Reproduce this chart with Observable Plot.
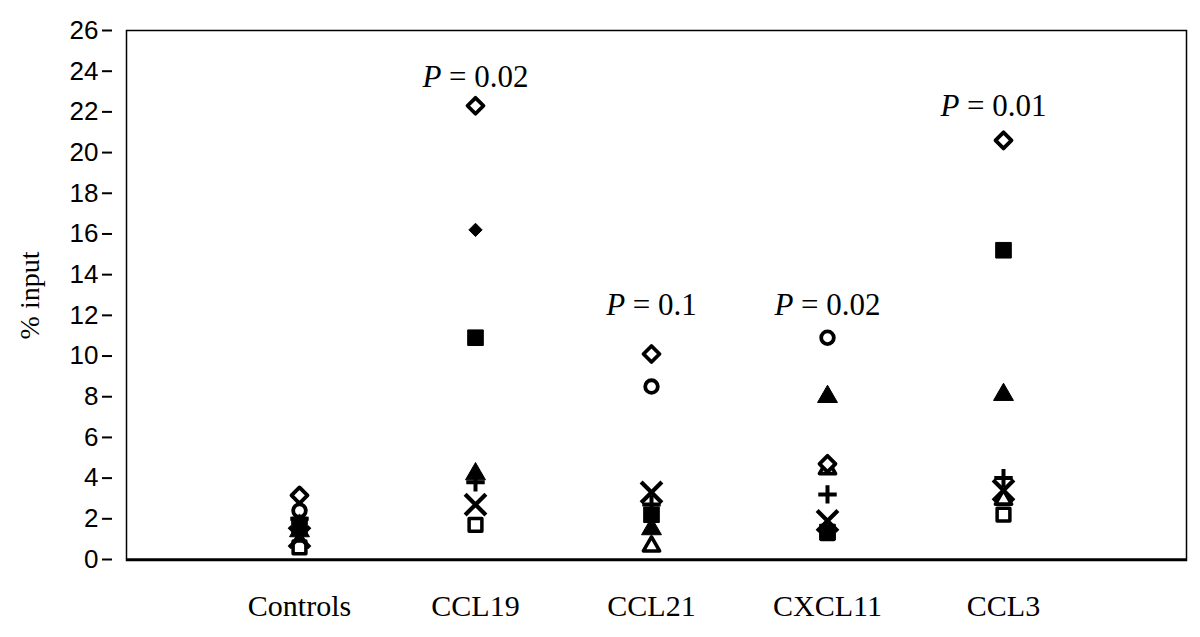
<!DOCTYPE html>
<html><head><meta charset="utf-8">
<script src="https://cdn.jsdelivr.net/npm/d3@7"></script>
<script src="https://cdn.jsdelivr.net/npm/@observablehq/plot@0.6"></script>
<style>body{margin:0;background:#fff}</style>
</head><body><div id="chart"></div>
<script>
const categories = ["Controls", "CCL19", "CCL21", "CXCL11", "CCL3"];
const yTicks = [0,2,4,6,8,10,12,14,16,18,20,22,24,26];

// values per category (Controls, CCL19, CCL21, CXCL11, CCL3); null = not visible
const openDiamond    = [3.15, 22.3, 10.1, 4.7, 20.6];
const filledDiamond  = [1.9, 16.2, null, null, null];
const filledSquare   = [1.7, 10.9, 2.2, 1.35, 15.2];
const openSquare     = [0.6, 1.7, null, 1.3, 2.2];
const filledTriangle = [1.4, 4.2, 1.5, 8.0, 8.1];
const openTriangle   = [0.85, null, 0.65, 4.45, 2.95];
const timesMark      = [1.1, 2.7, 3.3, 1.9, 3.4];
const plusMark       = [2.0, 3.8, 2.7, 3.2, 4.0];
const openCircle     = [2.4, null, 8.5, 10.9, null];

const pCategories = ["CCL19", "CCL21", "CXCL11", "CCL3"];
const pValues = ["0.02", "0.1", "0.02", "0.01"];
const pLabelY = [23.7, 12.5, 12.5, 22.3];

const seriesList = [
  {values: openTriangle,   symbol: "triangle", fill: "white", stroke: "black", r: 6,   sw: 3.6},
  {values: openSquare,     symbol: "square",   fill: "white", stroke: "black", r: 7.2, sw: 3.5},
  {values: filledSquare,   symbol: "square",   fill: "black", stroke: "black", r: 8.8, sw: 1},
  {values: filledTriangle, symbol: "triangle", fill: "black", stroke: "black", r: 7.4, sw: 1},
  {values: timesMark,      symbol: "times",    fill: "none",  stroke: "black", r: 9.5, sw: 4.2},
  {values: plusMark,       symbol: "plus",     fill: "none",  stroke: "black", r: 6,   sw: 4},
  {values: openCircle,     symbol: "circle",   fill: "white", stroke: "black", r: 6.3, sw: 3.8},
  {values: filledDiamond,  symbol: "diamond2", fill: "black", stroke: "black", r: 6,   sw: 1},
  {values: openDiamond,    symbol: "diamond2", fill: "white", stroke: "black", r: 7.2, sw: 3.8}
];

const dotMarks = seriesList.map(s => {
  const rows = [];
  s.values.forEach((v, i) => { if (v != null) rows.push({category: categories[i], value: v}); });
  return Plot.dot(rows, {x: "category", y: "value", symbol: s.symbol, r: s.r,
    fill: s.fill, stroke: s.stroke, strokeWidth: s.sw, strokeLinejoin: "round"});
});

const pRows = pCategories.map((c, i) => ({category: c, p: pValues[i], y: pLabelY[i]}));
const serif = "Liberation Serif, Times New Roman, serif";

const chart = Plot.plot({
  width: 1200, height: 637,
  marginLeft: 126, marginRight: 14, marginTop: 30, marginBottom: 77,
  style: {fontFamily: "Liberation Sans, Arial, sans-serif", background: "white", color: "black"},
  x: {type: "point", domain: categories, range: [298, 1003], padding: 0},
  y: {domain: [0, 26], range: [559, 30]},
  marks: [
    Plot.frame({stroke: "black", strokeWidth: 1.5}),
    Plot.ruleY([0], {stroke: "black", strokeWidth: 2.5}),
    Plot.axisY({ticks: yTicks, tickSize: 10, text: null, dx: -14, strokeWidth: 2}),
    Plot.axisY({ticks: yTicks, tickSize: 0, tickPadding: 28, fontSize: 26, label: null, tickFormat: d => String(d)}),
    Plot.axisX({tickSize: 0, tickPadding: 34, fontSize: 30, label: null, fontFamily: serif}),
    Plot.text(["% input"], {frameAnchor: "left", dx: -96, rotate: -90, textAnchor: "middle", fontSize: 28, fontFamily: serif, text: d => d}),
    ...dotMarks,
    Plot.text(pRows, {x: "category", y: "y", text: d => "P = " + d.p, fontSize: 31,
      fontFamily: serif, className: "plabel"})
  ]
});

d3.select(chart).selectAll(".plabel text").each(function() {
  const t = this.textContent;
  const rest = t.slice(1);
  const sel = d3.select(this);
  sel.text(null);
  sel.append("tspan").attr("font-style", "italic").text("P");
  sel.append("tspan").text(rest);
});
d3.select(chart).selectAll(".plabel text").filter((d, i) => i === 3).attr("transform", function() {
  return (this.getAttribute("transform") || "") + " translate(-10,0)";
});

document.getElementById("chart").appendChild(chart);
</script>
</body></html>
